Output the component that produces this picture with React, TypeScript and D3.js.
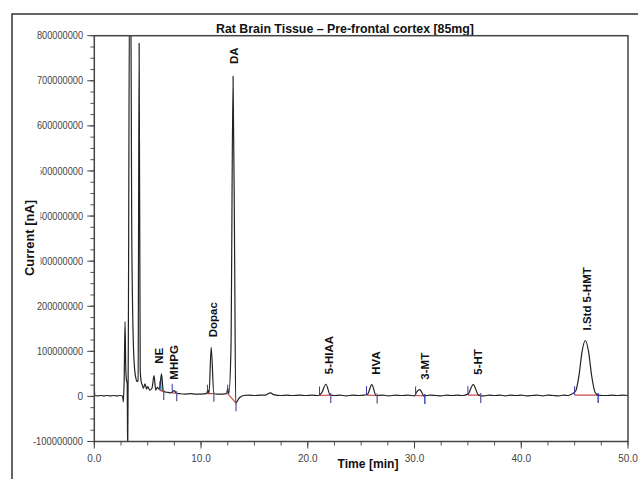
import * as d3 from 'd3';

// chromatogram trace: [time min, current in millions]
const traceTimes = [
  0, 0.05, 0.3, 0.6, 0.9, 1.2, 1.5, 1.8, 2.1, 2.4, 2.65, 2.72, 2.8, 2.88, 2.95, 3.02, 3.08, 3.13, 3.2, 3.3,
  3.42, 3.5, 3.6, 3.7, 3.8, 3.9, 4.0, 4.1, 4.2, 4.3, 4.4, 4.5, 4.6, 4.75, 4.9, 5.0, 5.2, 5.4, 5.6, 5.75,
  5.9, 6.1, 6.3, 6.45, 6.6, 6.9, 7.2, 7.5, 7.7, 8.0, 8.5, 9.0, 9.5, 10.0, 10.5, 10.65, 10.75, 10.95, 11.2, 11.5,
  12.0, 12.4, 12.5, 12.6, 12.8, 13.0, 13.15, 13.25, 13.4, 13.6, 14.0, 14.5, 15.0, 15.5, 16.0, 16.5, 16.8, 17.5, 18.0, 18.6,
  19.2, 19.8, 20.4, 21.0, 21.3, 21.7, 22.1, 22.5, 23.0, 23.6, 24.2, 24.8, 25.3, 25.6, 26.0, 26.4, 27.0, 27.6, 28.2, 28.8,
  29.4, 30.0, 30.2, 30.5, 30.9, 31.5, 32.0, 32.5, 33.0, 33.5, 34.0, 34.5, 35.0, 35.5, 36.0, 36.5, 37.0, 37.5, 38.0, 38.5,
  39.0, 39.5, 40.0, 40.5, 41.0, 41.5, 42.0, 42.5, 43.0, 43.5, 44.0, 44.4, 44.7, 45.1, 45.4, 45.7, 46.0, 46.3, 46.6, 46.9,
  47.2, 47.6, 48.0, 48.5, 49.0, 49.5, 50.0,
];
const traceValues = [
  18, 2, 1, 2, 1, 2, 1, 2, 1, 2, 1, -12, 40, 166, 60, 35, 30, -130, 200, 900,
  900, 400, 180, 90, 55, 40, 33, 35, 783, 60, 32, 25, 18, 28, 16, 22, 14, 18, 46, 14,
  20, 16, 50, 14, 10, 9, 8, 13, 7, 6, 5, 6, 5, 5, 6, 14, 7, 109, 6, 5,
  5, 6, 18, 6, 100, 710, 300, -16, -10, -3, 2, 3, 2, 3, 3, 8, 4, 2, 3, 2,
  3, 2, 3, 2, 8, 27, 3, 2, 3, 1, 3, 2, 3, 5, 26, 2, 3, 1, 3, 2,
  3, 1, 10, 15, 1, 3, 2, 1, 3, 2, 3, 2, 5, 26, 3, 1, 3, 2, 3, 1,
  3, 2, 3, 1, 2, 3, 1, 3, 2, 1, 3, 2, 5, 12, 45, 100, 124, 100, 45, 10,
  3, 2, 2, 3, 2, 3, 2,
];

// integration windows: start, end, baseline at start/end (millions)
const peakNames = ['NE', 'MHPG', 'Dopac', 'DA', '5-HIAA', 'HVA', '3-MT', '5-HT', 'I.Std 5-HMT'];
const peakStart = [6.15, 7.3, 10.6, 12.5, 21.1, 25.5, 30.1, 35.0, 45.0];
const peakEnd = [6.5, 7.72, 11.2, 13.28, 22.15, 26.5, 30.97, 36.2, 47.2];
const baseStart = [14, 8, 6, 6, 2, 3, 2, 3, 3];
const baseEnd = [10, 7, 6, -15, 3, 2, 1, 3, 3];
const labelTop = [50, 15, 109, 715, 27, 26, 15, 26, 124];
const labelX = [6.1, 7.45, 11.15, 13.1, 22.0, 26.35, 30.95, 35.95, 46.2];

const xTicks = [0, 10, 20, 30, 40, 50];
const xMinor = d3.range(0, 50.01, 2.5);
const yTicks = [-100, 0, 100, 200, 300, 400, 500, 600, 700, 800];
const yMinor = d3.range(-100, 800.01, 25);

export default function App() {
  const width = 638;
  const height = 479;
  const left = 94.3;
  const right = 628;
  const top = 35.7;
  const bottom = 441.5;

  const x = d3.scaleLinear().domain([0, 50]).range([left, right]);
  const y = d3.scaleLinear().domain([-100, 800]).range([bottom, top]);

  const pts: [number, number][] = traceTimes.map((t, i) => [t, traceValues[i]]);
  const line = d3
    .line<[number, number]>()
    .x((d) => x(d[0]))
    .y((d) => y(d[1]))
    .curve(d3.curveMonotoneX);

  const ne = pts.filter((d) => d[0] >= 6.1 && d[0] <= 6.45);
  const neArea = d3
    .area<[number, number]>()
    .x((d) => x(d[0]))
    .y0(y(12))
    .y1((d) => y(d[1]))
    .curve(d3.curveMonotoneX);

  const font = 'Arial, "Liberation Sans", sans-serif';

  return (
    <svg
      width={width}
      height={height}
      style={{ position: 'absolute', left: 0, top: 0, background: '#fff' }}
      fontFamily={font}
    >
      <rect x={12} y={14} width={700} height={500} fill="#fff" stroke="#333" strokeWidth={1.5} />
      <defs>
        <clipPath id="plot">
          <rect x={left} y={top} width={right - left} height={bottom - top} />
        </clipPath>
      </defs>

      <text x={345} y={32.5} textAnchor="middle" fontWeight="bold" fontSize={12} fill="#111" textLength={258} lengthAdjust="spacingAndGlyphs">
        Rat Brain Tissue – Pre-frontal cortex [85mg]
      </text>

      {/* y axis ticks and labels */}
      {yMinor.map((v) => (
        <line key={'ym' + v} x1={left - 4} x2={left} y1={y(v)} y2={y(v)} stroke="#555" strokeWidth={1} />
      ))}
      {yTicks.map((v) => (
        <g key={'y' + v}>
          <line x1={left - 7} x2={left} y1={y(v)} y2={y(v)} stroke="#444" strokeWidth={1} />
          <text
            x={83}
            y={y(v) + 3.6}
            textAnchor="end"
            fontSize={10}
            fill="#444"
            textLength={v === 0 ? undefined : v < 0 ? 50 : 46}
            lengthAdjust="spacingAndGlyphs"
          >
            {v === 0 ? '0' : String(v * 1000000)}
          </text>
        </g>
      ))}

      {/* y axis title, its box hides a few label digits as in the original */}
      <rect x={21} y={163} width={19.5} height={122} fill="#fff" />
      <text transform={`translate(34,238) rotate(-90)`} textAnchor="middle" fontWeight="bold" fontSize={12} fill="#111" textLength={76} lengthAdjust="spacingAndGlyphs">
        Current [nA]
      </text>

      {/* x axis */}
      {xMinor.map((v) => (
        <line key={'xm' + v} x1={x(v)} x2={x(v)} y1={bottom} y2={bottom + 4} stroke="#555" strokeWidth={1} />
      ))}
      {xTicks.map((v) => (
        <g key={'x' + v}>
          <line x1={x(v)} x2={x(v)} y1={bottom} y2={bottom + 7} stroke="#444" strokeWidth={1} />
          <text x={x(v)} y={462} textAnchor="middle" fontSize={10} fill="#444">
            {v.toFixed(1)}
          </text>
        </g>
      ))}
      <text x={368} y={468} textAnchor="middle" fontWeight="bold" fontSize={12} fill="#111" textLength={61} lengthAdjust="spacingAndGlyphs">
        Time [min]
      </text>

      <g clipPath="url(#plot)">
        <path d={neArea(ne) ?? ''} fill="#40c0c8" opacity={0.8} />
        {peakStart.map((s, i) => (
          <g key={'int' + i}>
            <line x1={x(s)} x2={x(peakEnd[i])} y1={y(baseStart[i])} y2={y(baseEnd[i])} stroke="#d04848" strokeWidth={1.2} />
          </g>
        ))}
        <path d={line(pts) ?? ''} fill="none" stroke="#222" strokeWidth={1.2} />
        {peakStart.map((s, i) => (
          <g key={'mk' + i}>
            <line x1={x(s)} x2={x(s)} y1={y(baseStart[i])} y2={y(baseStart[i]) - 9} stroke="#3a3aa8" strokeWidth={1} />
            <line x1={x(peakEnd[i])} x2={x(peakEnd[i])} y1={y(baseEnd[i]) - 2} y2={y(baseEnd[i]) + 8} stroke={i === 6 || i === 8 ? '#2233bb' : '#6a5a9a'} strokeWidth={1.3} />
          </g>
        ))}
      </g>

      <rect x={left} y={top} width={right - left} height={bottom - top} fill="none" stroke="#444" strokeWidth={1.5} />

      {peakNames.map((n, i) => (
        <text
          key={n}
          transform={`translate(${x(labelX[i]) + 4},${y(labelTop[i]) - 10}) rotate(-90)`}
          fontWeight="bold"
          fontSize={11.5}
          fill="#111"
        >
          {n}
        </text>
      ))}
    </svg>
  );
}
